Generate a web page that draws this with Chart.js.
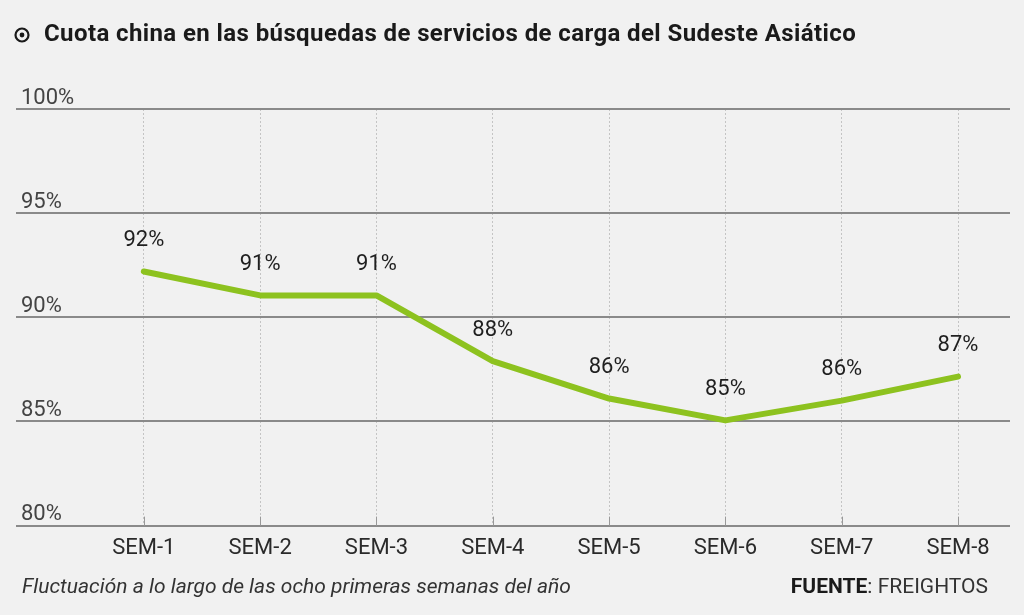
<!DOCTYPE html>
<html>
<head>
<meta charset="utf-8">
<script src="https://cdn.jsdelivr.net/npm/chart.js@4/dist/chart.umd.min.js"></script>
<style>
  body { margin: 0; background: #f1f1f1; }
  #wrap { width: 1024px; height: 615px; position: relative; }
</style>
</head>
<body>
<div id="wrap"><canvas id="myChart"></canvas></div>
<script>
const title = "Cuota china en las búsquedas de servicios de carga del Sudeste Asiático"
const note = "Fluctuación a lo largo de las ocho primeras semanas del año"
const source_label = "FUENTE"
const source_name = ": FREIGHTOS"

const weeks = ["SEM-1", "SEM-2", "SEM-3", "SEM-4", "SEM-5", "SEM-6", "SEM-7", "SEM-8"]
const share = [92.2, 91.05, 91.05, 87.9, 86.1, 85.05, 86.0, 87.15]
const share_labels = ["92%", "91%", "91%", "88%", "86%", "85%", "86%", "87%"]
const y_ticks = [80, 85, 90, 95, 100]

const FONT = "Roboto, 'DejaVu Sans', sans-serif"

// title, footnote and source
const textPlugin = {
    id: "texts",
    afterDraw(chart){
        const ctx = chart.ctx
        ctx.save()
        // circle icon
        ctx.strokeStyle = "#1a1a1a"
        ctx.fillStyle = "#1a1a1a"
        ctx.lineWidth = 2.2
        ctx.beginPath()
        ctx.arc(22, 35, 6.5, 0, Math.PI*2)
        ctx.stroke()
        ctx.beginPath()
        ctx.arc(22, 35, 2.4, 0, Math.PI*2)
        ctx.fill()

        ctx.textBaseline = "middle"
        ctx.textAlign = "left"
        ctx.font = "bold 24px " + FONT
        ctx.letterSpacing = "0.4px"
        ctx.fillText(title, 44, 35)
        ctx.letterSpacing = "0px"

        ctx.fillStyle = "#333"
        ctx.font = "italic 21px " + FONT
        ctx.fillText(note, 22, 588)

        ctx.font = "bold 21px " + FONT
        ctx.fillStyle = "#1a1a1a"
        const w1 = ctx.measureText(source_label).width
        ctx.font = "21px " + FONT
        const w2 = ctx.measureText(source_name).width
        const x0 = 988 - w1 - w2
        ctx.font = "bold 21px " + FONT
        ctx.fillText(source_label, x0, 588)
        ctx.font = "21px " + FONT
        ctx.fillStyle = "#333"
        ctx.fillText(source_name, x0 + w1, 588)
        ctx.restore()
    }
}

// small tick marks above the baseline + value labels
const markPlugin = {
    id: "marks",
    beforeDatasetsDraw(chart){
        const ctx = chart.ctx
        const x = chart.scales.x
        const bottom = chart.chartArea.bottom
        ctx.save()
        ctx.strokeStyle = "#999"
        ctx.lineWidth = 1
        for(let i = 0; i < weeks.length; i++){
            const px = Math.round(x.getPixelForValue(i + 1)) + 0.5
            ctx.beginPath()
            ctx.moveTo(px, bottom - 9)
            ctx.lineTo(px, bottom)
            ctx.stroke()
        }
        ctx.restore()
    },
    afterDatasetsDraw(chart){
        const ctx = chart.ctx
        const meta = chart.getDatasetMeta(0)
        ctx.save()
        ctx.font = "22px " + FONT
        ctx.fillStyle = "#1f1f1f"
        ctx.textAlign = "center"
        ctx.textBaseline = "middle"
        meta.data.forEach((pt, i) => {
            ctx.fillText(share_labels[i], pt.x, pt.y - 31)
        })
        ctx.restore()
    }
}

const ctx = document.getElementById('myChart').getContext('2d')

new Chart(ctx, {
    type: 'line',
    data: {
        datasets: [{
            data: share.map((v, i) => ({x: i + 1, y: v})),
            borderColor: "#8dc21f",
            borderWidth: 6,
            pointRadius: 0,
            borderJoinStyle: "round",
            borderCapStyle: "round",
            tension: 0
        }]
    },
    options: {
        responsive: true,
        maintainAspectRatio: false,
        animation: false,
        layout: {
            padding: {left: 6, right: 14, top: 109, bottom: 43}
        },
        plugins: {
            legend: {display: false},
            tooltip: {enabled: false}
        },
        scales: {
            x: {
                type: 'linear',
                min: -0.099,
                max: 8.447,
                afterBuildTicks: (scale) => {
                    scale.ticks = weeks.map((w, i) => ({value: i + 1}))
                },
                grid: {
                    color: "#c4c4c4",
                    lineWidth: 1,
                    drawTicks: false
                },
                border: {display: false, dash: [2, 2]},
                ticks: {
                    color: "#2a2a2a",
                    font: {family: FONT, size: 22},
                    padding: 10,
                    maxRotation: 0,
                    callback: (v) => weeks[v - 1]
                }
            },
            y: {
                min: 80,
                max: 100,
                afterBuildTicks: (scale) => {
                    scale.ticks = y_ticks.map(v => ({value: v}))
                },
                grid: {
                    color: "#8a8a8a",
                    lineWidth: 2,
                    drawTicks: false
                },
                border: {display: false},
                ticks: {
                    mirror: true,
                    padding: 5,
                    labelOffset: -11,
                    color: "#444",
                    font: {family: FONT, size: 22},
                    callback: (v) => v + "%"
                }
            }
        }
    },
    plugins: [textPlugin, markPlugin]
})
</script>
</body>
</html>
